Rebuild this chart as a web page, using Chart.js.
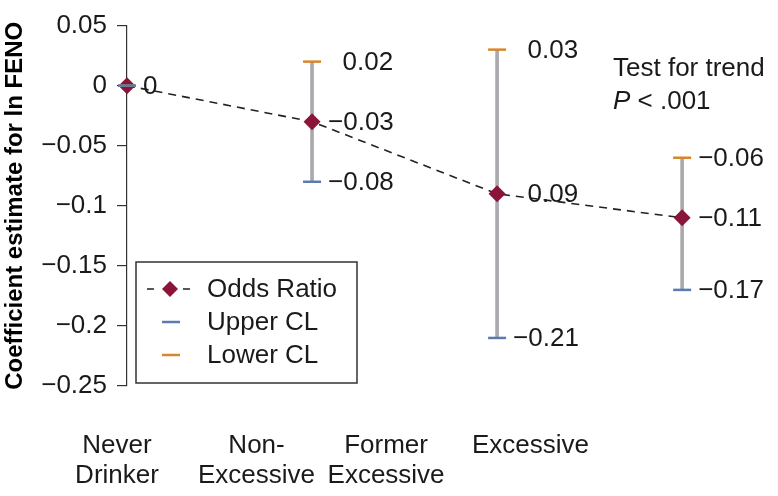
<!DOCTYPE html>
<html>
<head>
<meta charset="utf-8">
<script src="https://cdn.jsdelivr.net/npm/chart.js@4"></script>
<style>
  body { margin: 0; background: #fff; }
  #wrap { width: 778px; height: 496px; position: relative; }
</style>
</head>
<body>
<div id="wrap"><canvas id="myChart"></canvas></div>
<script>
const categories = [['Never', 'Drinker'], ['Non-', 'Excessive'], ['Former', 'Excessive'], ['Excessive']]
const catX = [0, 1, 2, 3]
// where the category names sit along x (they are not under the points in the original)
const catLabelX = [-0.054, 0.70, 1.40, 2.18]
const oddsRatio = [0, -0.03, -0.09, -0.11]
const upperCL = [0, -0.08, -0.21, -0.17]
const lowerCL = [0, 0.02, 0.03, -0.06]
// value labels as printed (the former excessive point reads "0.09" in the source)
const midLabels = ['0', '−0.03', '\u20070.09', '−0.11']
const topLabels = ['', '\u20070.02', '\u20070.03', '−0.06']
const bottomLabels = ['', '−0.08', '−0.21', '−0.17']
const yTicks = [0.05, 0, -0.05, -0.1, -0.15, -0.2, -0.25]
const yTickLabels = ['0.05', '0', '−0.05', '−0.1', '−0.15', '−0.2', '−0.25']

const FONT = "'Liberation Sans', Arial, Helvetica, sans-serif"
const INK = '#1a1a1a'

const pts = arr => arr.map((v, i) => ({ x: catX[i], y: v }))

// value labels next to each point and bar end
const valueLabels = {
  id: 'valueLabels',
  afterDatasetsDraw(chart) {
    const { ctx, scales: { x, y } } = chart
    ctx.save()
    ctx.font = '26px ' + FONT
    ctx.fillStyle = INK
    ctx.textAlign = 'left'
    ctx.textBaseline = 'middle'
    catX.forEach((cx, i) => {
      const px = x.getPixelForValue(cx) + 16
      if (topLabels[i]) ctx.fillText(topLabels[i], px, y.getPixelForValue(lowerCL[i]) + 1)
      ctx.fillText(midLabels[i], px, y.getPixelForValue(oddsRatio[i]) + 1)
      if (bottomLabels[i]) ctx.fillText(bottomLabels[i], px, y.getPixelForValue(upperCL[i]) + 1)
    })
    // trend note
    ctx.fillText('Test for trend', 613, 69)
    ctx.font = 'italic 26px ' + FONT
    ctx.fillText('P', 613, 102)
    const w = ctx.measureText('P ').width
    ctx.font = '26px ' + FONT
    ctx.fillText('< .001', 613 + w, 102)
    ctx.restore()
  }
}

// boxed legend sitting inside the plot, lower left
const boxLegend = {
  id: 'boxLegend',
  afterDraw(chart) {
    const { ctx } = chart
    const ds = chart.data.datasets
    const bx = 136, by = 262, bw = 221, bh = 121
    ctx.save()
    ctx.fillStyle = '#fff'
    ctx.fillRect(bx, by, bw, bh)
    ctx.strokeStyle = '#333'
    ctx.lineWidth = 1.5
    ctx.strokeRect(bx, by, bw, bh)
    const rows = [289, 322, 355]
    // odds ratio: dash - diamond - dash
    ctx.strokeStyle = ds[0].borderColor
    ctx.lineWidth = 1.6
    ctx.beginPath()
    ctx.moveTo(147, rows[0]); ctx.lineTo(154, rows[0])
    ctx.moveTo(183, rows[0]); ctx.lineTo(190, rows[0])
    ctx.stroke()
    ctx.fillStyle = ds[0].pointBackgroundColor
    ctx.beginPath()
    ctx.moveTo(170, rows[0] - 8); ctx.lineTo(178, rows[0]); ctx.lineTo(170, rows[0] + 8); ctx.lineTo(162, rows[0])
    ctx.closePath(); ctx.fill()
    // cl ticks
    ;[1, 2].forEach(k => {
      ctx.strokeStyle = ds[k].pointBorderColor
      ctx.lineWidth = 2.5
      ctx.beginPath()
      ctx.moveTo(162, rows[k]); ctx.lineTo(180, rows[k])
      ctx.stroke()
    })
    ctx.fillStyle = INK
    ctx.font = '26px ' + FONT
    ctx.textBaseline = 'middle'
    ctx.fillText(ds[0].label, 207, rows[0] + 1)
    ctx.fillText(ds[1].label, 207, rows[1] + 1)
    ctx.fillText(ds[2].label, 207, rows[2] + 1)
    ctx.restore()
  }
}

const ctx = document.getElementById('myChart')
new Chart(ctx, {
  type: 'line',
  data: {
    datasets: [{
      label: 'Odds Ratio',
      data: pts(oddsRatio),
      borderColor: '#222',
      borderWidth: 1.6,
      borderDash: [8, 6],
      pointStyle: 'rectRot',
      pointRadius: 8.5,
      pointBorderWidth: 0,
      pointBackgroundColor: '#8b1538',
      pointBorderColor: '#8b1538',
      clip: false,
      order: 3
    }, {
      label: 'Upper CL',
      data: pts(upperCL),
      showLine: false,
      pointStyle: 'line',
      pointRadius: 9,
      pointBorderWidth: 2.5,
      pointBorderColor: '#5b7bb0',
      borderColor: '#5b7bb0',
      clip: false,
      order: 1
    }, {
      label: 'Lower CL',
      data: pts(lowerCL),
      showLine: false,
      pointStyle: 'line',
      pointRadius: 9,
      pointBorderWidth: 2.5,
      pointBorderColor: '#d8862c',
      borderColor: '#d8862c',
      clip: false,
      order: 2
    }, {
      type: 'bar',
      label: 'CI',
      data: catX.map((cx, i) => ({ x: cx, y: [upperCL[i], lowerCL[i]] })),
      backgroundColor: '#a9a9ae',
      barThickness: 3,
      borderWidth: 0,
      clip: false,
      order: 5
    }]
  },
  options: {
    responsive: true,
    maintainAspectRatio: false,
    animation: false,
    layout: { padding: { top: 25, right: 20, bottom: 0, left: 0 } },
    plugins: { legend: { display: false }, tooltip: { enabled: false } },
    scales: {
      x: {
        type: 'linear',
        min: 0,
        max: 3.41,
        offset: false,
        grid: { display: false },
        border: { display: false },
        afterBuildTicks: scale => { scale.ticks = catLabelX.map(v => ({ value: v })) },
        afterFit: scale => { scale.height = 110 },
        ticks: {
          autoSkip: false,
          maxRotation: 0,
          padding: 37,
          color: INK,
          font: { family: FONT, size: 26, lineHeight: 1.15 },
          callback: (v, i) => categories[i]
        }
      },
      y: {
        min: -0.25,
        max: 0.05,
        afterBuildTicks: scale => { scale.ticks = yTicks.map(v => ({ value: v })) },
        afterFit: scale => { scale.width = 127 },
        grid: { drawOnChartArea: false, drawTicks: true, tickLength: 10, color: '#333', lineWidth: 1.2 },
        border: { display: true, color: '#333', width: 1.2 },
        ticks: {
          padding: 10,
          color: INK,
          font: { family: FONT, size: 26 },
          callback: (v, i) => yTickLabels[yTicks.indexOf(v)]
        },
        title: {
          display: true,
          text: 'Coefficient estimate for ln FENO',
          color: '#000',
          padding: { top: 1, bottom: 0 },
          font: { family: FONT, size: 24, weight: 'bold' }
        }
      }
    }
  },
  plugins: [valueLabels, boxLegend]
})
</script>
</body>
</html>
